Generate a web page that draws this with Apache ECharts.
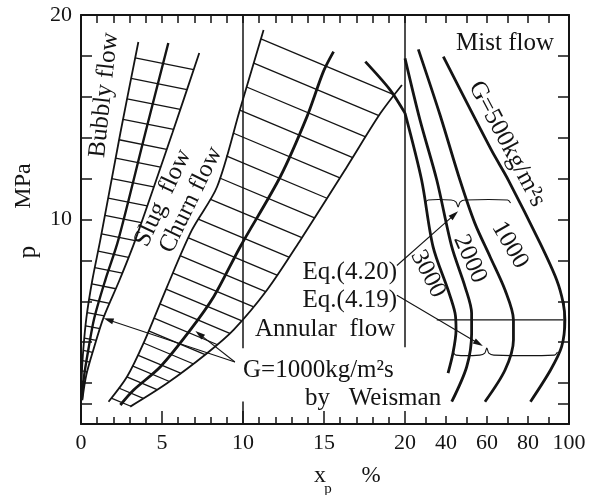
<!DOCTYPE html>
<html><head><meta charset="utf-8">
<script src="https://cdn.jsdelivr.net/npm/echarts@6/dist/echarts.min.js"></script>
<style>html,body{margin:0;padding:0;background:#fff}#c{width:593px;height:495px}</style>
</head><body><div id="c"></div><script>
const FONT = '"Liberation Serif", "DejaVu Serif", serif';
const INK = '#141414';

// ---- tick labels ----
const xLabelsLow = [0, 5, 10, 15];
const xLabelsHigh = [20, 40, 60, 80, 100];
const yLabels = [10, 20];
const yTickValues = [1, 2, 4, 6, 8, 10, 12, 14, 16, 18];

// ---- bubbly / slug transition band  [x %, p MPa] ----
const band1Left   = [[3.54,18.68],[2.43,14.23],[1.19,8.99],[0.70,7.04],[0.33,5.18],[0.14,3.62],[0.05,2.40],[0.02,1.42]];
const band1Center = [[5.39,18.63],[3.97,14.23],[2.30,8.99],[1.50,7.04],[0.82,5.18],[0.45,3.62],[0.20,2.40],[0.05,1.17]];
const band1Right  = [[7.30,18.14],[5.64,14.23],[3.35,8.99],[2.38,7.04],[1.38,5.18],[0.76,3.62],[0.33,2.40],[0.08,1.17]];
const band1Hatch  = [17.9,16.9,15.9,14.9,13.9,13.0,12.0,11.05,10.2,9.3,8.45,7.65,6.85,6.1,5.45,4.8,4.2,3.6,3.1,2.6,2.1,1.65];

// ---- churn / annular transition band ----
const band2Left   = [[11.27,19.27],[9.83,15.43],[8.40,11.60],[6.85,9.49],[5.31,6.71],[3.86,3.95],[2.84,2.31],[1.70,1.09]];
const band2Center = [[15.59,18.21],[14.96,17.23],[13.95,15.03],[12.30,12.09],[9.83,8.67],[8.19,6.22],[6.75,4.60],[4.90,2.80],[3.25,1.66],[2.43,0.93]];
const band2Right  = [[19.81,16.58],[18.48,15.19],[16.42,12.58],[13.54,8.99],[11.48,6.55],[9.42,4.60],[7.78,3.46],[5.31,1.99],[3.04,0.85]];
const band2Hatch  = [18.83,17.65,16.48,15.35,14.23,13.11,12.03,11.0,10.02,9.10,8.22,7.38,6.60,5.87,5.18,4.55,3.96,3.37,2.84,2.30,1.76,1.27];

// ---- annular / mist transition (G = 3000, 2000, 1000, 500 kg/m2s) ----
const mist3000 = [[17.55,17.72],[19.09,16.33],[20,15.2],[28.1,11.93],[33.7,8.66],[41.0,6.55],[44.4,5.43],[44.9,4.60],[43.4,3.47],[41.0,2.49]];
const mist2000 = [[20,17.88],[27.3,14.87],[35.5,11.93],[42.8,8.67],[49.3,6.71],[52.5,5.41],[52.5,4.44],[50.1,2.80],[42.8,1.09]];
const mist1000 = [[26.5,18.32],[37.1,15.11],[46.8,11.93],[54.1,9.81],[61.5,8.18],[68.8,6.55],[72.9,5.09],[72.9,4.11],[68.8,2.64],[59.0,1.09]];
const mist500  = [[38.7,17.96],[62.1,13.4],[70.4,11.93],[85.9,8.84],[94.0,7.04],[97.2,5.90],[98.0,5.09],[96.4,3.78],[91.0,2.64],[81.2,1.09]];

// ---- vertical reference lines ----
const vLine10 = [[10,3.7],[10,20]];
const vLine20 = [[20,3.75],[20,20]];
const tick10  = [[10,0],[10,1.1]];

// ---- annotations ----
const eq420Arrow = [[19.5,7.75],[45.9,10.4]];
const eq420Brace = {x1:29.8, x2:71.5, y:10.95, xb:45.9};
const eq419Arrow = [[19.5,6.3],[58.0,3.81]];
const eq419Brace = {x1:43.4, x2:94.4, y:3.37, xb:59.9};
const midLine = [[35.5,5.09],[97.2,5.09]];
const sideMark = [[97.6,4.3],[97.6,6.0]];
const g1000Arrows = [[[9.5,3.03],[1.40,5.17]], [[9.5,3.03],[7.06,4.55]]];

const chart = echarts.init(document.getElementById('c'), null, {renderer:'canvas'});
const axText = {fontFamily:FONT, fontSize:22, color:INK};
const axLine = {show:true, lineStyle:{color:INK, width:2}};
const tk = (len)=>({show:true, inside:true, length:len, lineStyle:{color:INK, width:1.5}});

const xAxis = [
  {gridIndex:0, type:'value', position:'bottom', min:0, max:20, interval:5, axisLine:axLine,
   axisTick:tk(13), minorTick:{show:true, splitNumber:5, length:7, lineStyle:{color:INK,width:1.5}},
   axisLabel:{customValues:xLabelsLow, margin:8, ...axText}, splitLine:{show:false}, minorSplitLine:{show:false}},
  {gridIndex:0, type:'value', position:'top', min:0, max:20, interval:1, axisLine:axLine,
   axisTick:tk(8), axisLabel:{show:false}, splitLine:{show:false}},
  {gridIndex:1, type:'value', position:'bottom', min:20, max:100, interval:20, axisLine:axLine,
   axisTick:tk(8), minorTick:{show:true, splitNumber:2, length:7, lineStyle:{color:INK,width:1.5}},
   axisLabel:{customValues:xLabelsHigh, margin:8, ...axText}, splitLine:{show:false}, minorSplitLine:{show:false}},
  {gridIndex:1, type:'value', position:'top', min:20, max:100, interval:10, axisLine:axLine,
   axisTick:tk(8), axisLabel:{show:false}, splitLine:{show:false}}
];
const yAxis = [
  {gridIndex:0, type:'value', position:'left', min:0, max:20, interval:2, axisLine:axLine,
   axisTick:{...tk(11), customValues:yTickValues}, axisLabel:{customValues:yLabels, margin:9, ...axText}, splitLine:{show:false}},
  {gridIndex:1, type:'value', position:'right', min:0, max:20, interval:2, axisLine:axLine,
   axisTick:{...tk(11), customValues:yTickValues}, axisLabel:{show:false}, splitLine:{show:false}}
];

const series = [];
function addCurve(data, width){
  const base = {type:'line', symbol:'none', showSymbol:false, silent:true, clip:true,
    smooth:0.3, lineStyle:{color:INK, width}, z:3};
  const lo = data.filter(p=>p[0] <= 20), hi = data.filter(p=>p[0] >= 20);
  if (lo.length > 1) series.push({...base, data:lo, xAxisIndex:0, yAxisIndex:0});
  if (hi.length > 1) series.push({...base, data:hi, xAxisIndex:2, yAxisIndex:1});
}
[band1Left, band1Right].forEach(d=>addCurve(d,1.8));
addCurve(band1Center,2.4);
[band2Left, band2Right].forEach(d=>addCurve(d,1.8));
addCurve(band2Center,2.8);
[mist3000, mist2000, mist1000, mist500].forEach(d=>addCurve(d,2.8));
series.push({type:'line', xAxisIndex:0, yAxisIndex:0, data:vLine10, symbol:'none', silent:true, lineStyle:{color:INK,width:1.5}});
series.push({type:'line', xAxisIndex:0, yAxisIndex:0, data:tick10, symbol:'none', silent:true, lineStyle:{color:INK,width:1.5}});
series.push({type:'line', xAxisIndex:2, yAxisIndex:1, data:vLine20, symbol:'none', silent:true, clip:false, lineStyle:{color:INK,width:1.5}});

// hatching between two boundary curves
function hatch(left, right, levels, slope){
  return {type:'custom', xAxisIndex:0, yAxisIndex:0, data:[0], silent:true, clip:false, z:2,
    renderItem(params, api){
      const L = left.map(p=>api.coord(p)), R = right.map(p=>api.coord(p));
      const poly = L.concat(R.slice().reverse());
      const kids = [];
      levels.forEach(lv=>{
        const py = api.coord([0,lv])[1];
        let P = null;
        for (let i=0;i<L.length-1;i++){
          const a=L[i], b=L[i+1];
          if ((py-a[1])*(py-b[1]) <= 0 && a[1]!==b[1]){
            const t=(py-a[1])/(b[1]-a[1]); P=[a[0]+t*(b[0]-a[0]), py]; break;
          }
        }
        if(!P) return;
        let tmax = 0;
        for (let i=0;i<poly.length;i++){
          const q1=poly[i], q2=poly[(i+1)%poly.length];
          const ex=q2[0]-q1[0], ey=q2[1]-q1[1];
          const den = 1*ey - slope*ex;
          if (Math.abs(den)<1e-9) continue;
          const wx=q1[0]-P[0], wy=q1[1]-P[1];
          const t = (wx*ey - wy*ex)/den;
          const u = (wx*slope - wy*1)/den;
          if (u>=0 && u<=1 && t>tmax) tmax=t;
        }
        if (tmax>1) kids.push({type:'line', shape:{x1:P[0],y1:P[1],x2:P[0]+tmax,y2:P[1]+slope*tmax},
          style:{stroke:INK, lineWidth:1.3}});
      });
      return {type:'group', children:kids};
    }};
}
series.push(hatch(band1Left, band1Right, band1Hatch, 0.2));
series.push(hatch(band2Left, band2Right, band2Hatch, 0.42));

chart.setOption({
  animation:false, backgroundColor:'#fff',
  grid:[{left:81, top:15, width:324, height:409, outerBoundsMode:'none'},
        {left:405, top:15, width:164, height:409, outerBoundsMode:'none'}],
  xAxis, yAxis, series
});

// ---- annotations (converted through the axes) ----
function px(p){
  return p[0] <= 20 ? chart.convertToPixel({xAxisIndex:0, yAxisIndex:0}, p)
                    : chart.convertToPixel({xAxisIndex:2, yAxisIndex:1}, p);
}
const g = [];
const thin = {stroke:INK, lineWidth:1.1, fill:null};
function arrow(a, b){
  const A=px(a), B=px(b);
  const dx=B[0]-A[0], dy=B[1]-A[1], l=Math.hypot(dx,dy), ux=dx/l, uy=dy/l;
  g.push({type:'line', shape:{x1:A[0],y1:A[1],x2:B[0]-ux*6,y2:B[1]-uy*6}, style:thin, z:10});
  const hl=10, hw=3;
  g.push({type:'polygon', shape:{points:[[B[0],B[1]],[B[0]-ux*hl-uy*hw, B[1]-uy*hl+ux*hw],[B[0]-ux*hl+uy*hw, B[1]-uy*hl-ux*hw]]},
    style:{fill:INK}, z:10});
}
function brace(b, tipDir){
  const P1=px([b.x1,b.y]), P2=px([b.x2,b.y]), PB=px([b.xb,b.y]);
  const y=P1[1], s=tipDir;
  const pts=[[P1[0],y+3*s],[P1[0]+3,y],[PB[0]-7,y],[PB[0]-2,y+2*s],[PB[0],y+7*s],[PB[0]+2,y+2*s],[PB[0]+7,y],[P2[0]-3,y],[P2[0],y+3*s]];
  g.push({type:'polyline', shape:{points:pts, smooth:0.3}, style:thin, z:10});
}
arrow(eq420Arrow[0], eq420Arrow[1]);
arrow(eq419Arrow[0], eq419Arrow[1]);
brace(eq420Brace, 1);
brace(eq419Brace, -1);
g1000Arrows.forEach(a=>arrow(a[0],a[1]));
[midLine, sideMark].forEach(l=>{const A=px(l[0]),B=px(l[1]);
  g.push({type:'line', shape:{x1:A[0],y1:A[1],x2:B[0],y2:B[1]}, style:thin, z:10});});

function txt(s, x, y, rotDeg, size, align){
  g.push({type:'text', x, y, rotation:(rotDeg||0)*Math.PI/180, z:20,
    style:{text:s, fontFamily:FONT, fontSize:size||25, fill:INK, align:align||'center', verticalAlign:'middle'}});
}
txt('Bubbly flow', 104, 95, 84);
txt('Slug  flow', 163, 198, 65);
txt('Churn flow', 191, 200, 64);
txt('Mist flow', 505, 43, 0);
txt('G=500kg/m²s', 507, 144, -62);
txt('1000', 510, 245, -60);
txt('2000', 470, 259, -66);
txt('3000', 428, 274, -63);
txt('Eq.(4.20)', 397, 272, 0, 25, 'right');
txt('Eq.(4.19)', 397, 300, 0, 25, 'right');
txt('Annular  flow', 255, 329, 0, 25, 'left');
txt('G=1000kg/m²s', 243, 370, 0, 25, 'left');
txt('by   Weisman', 305, 398, 0, 25, 'left');
txt('p', 28, 252, 90, 25);
txt('MPa', 24, 186, 90, 24);
txt('x', 320, 476, 0, 24);
txt('p', 328, 489, 0, 15);
txt('%', 371, 476, 0, 23);
chart.setOption({graphic:g});
</script></body></html>
